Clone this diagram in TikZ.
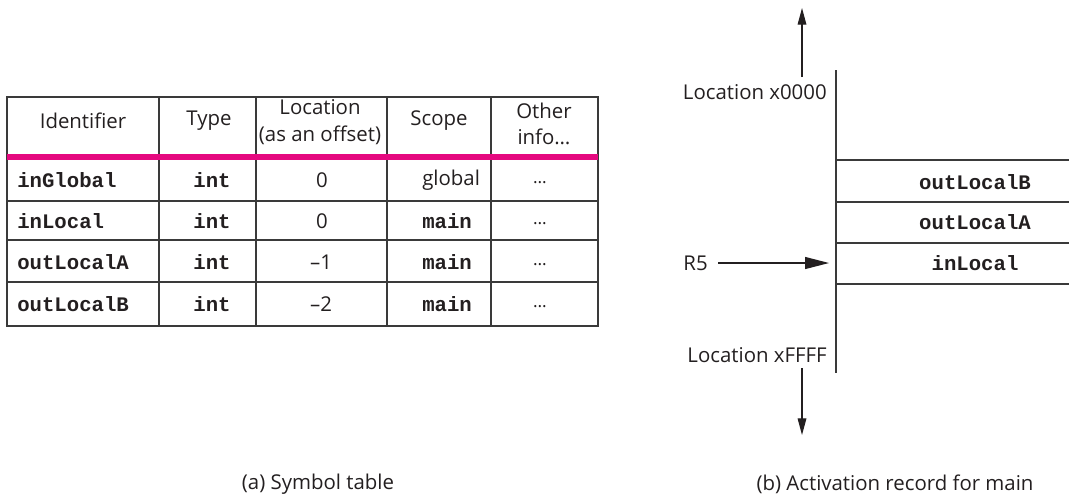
\documentclass[tikz,border=0pt]{standalone}
\usepackage{fontspec}
\setmainfont{Open Sans}
\newfontfamily\codefont{Liberation Mono}
\usetikzlibrary{arrows.meta}
\definecolor{ink}{HTML}{231F20}
\definecolor{rule}{HTML}{3A3A3A}
\definecolor{pinkrule}{HTML}{E5097F}
\tikzset{
  txt/.style={inner sep=0pt, text=ink, font=\fontsize{15.3}{16}\selectfont},
  code/.style={inner sep=0pt, text=ink, font=\fontsize{15.5}{16}\selectfont\codefont\bfseries},
  dots/.style={inner sep=0pt, text=ink, font=\fontsize{13}{14}\selectfont},
  tline/.style={draw=rule, line width=1.1pt},
  mline/.style={draw=rule, line width=1.1pt},
  varrow/.style={draw=ink, line width=0.9pt, -{Triangle[length=12.5pt,width=6.5pt]}},
  harrow/.style={draw=ink, line width=0.9pt, -{Triangle[length=18pt,width=9pt]}}
}
\begin{document}
\begin{tikzpicture}[x=0.75pt,y=-0.75pt]
\useasboundingbox (0,0) rectangle (1069,494);
% ---------- symbol table ----------
\draw[tline] (7,97) rectangle (598,326);
\foreach \xx in {159,256,387,491} \draw[tline] (\xx,97) -- (\xx,326);
\foreach \yy in {201,240,282} \draw[tline] (7,\yy) -- (598,\yy);
\draw[draw=pinkrule, line width=4.5pt] (7,156.5) -- (598,156.5);
% header
\node[txt] (hid) at (83,121) {Identifier};
\node[txt] (hty) at (209,121) {Type};
\node[txt, align=center, font=\fontsize{15.3}{20}\selectfont] (hlo) at (320,122) {Location\\(as an offset)};
\node[txt] (hsc) at (439,121) {Scope};
\node[txt, align=center, font=\fontsize{15.3}{20}\selectfont] (hot) at (544,124) {Other\\info\ldots};
% rows
\node[code, anchor=west] (r1id) at (17,180) {inGlobal};
\node[code] (r1ty) at (212,180) {int};
\node[txt] (r1lo) at (322,180) {0};
\node[txt, anchor=west] (r1sc) at (422,180) {global};
\node[dots] (r1ot) at (540,183) {\ldots};
\node[code, anchor=west] (r2id) at (17,221) {inLocal};
\node[code] (r2ty) at (212,221) {int};
\node[txt] (r2lo) at (322,221) {0};
\node[code, anchor=west] (r2sc) at (422,221) {main};
\node[dots] (r2ot) at (540,224) {\ldots};
\node[code, anchor=west] (r3id) at (17,262) {outLocalA};
\node[code] (r3ty) at (212,262) {int};
\node[txt] (r3lo) at (321,262) {--1};
\node[code, anchor=west] (r3sc) at (422,262) {main};
\node[dots] (r3ot) at (540,265) {\ldots};
\node[code, anchor=west] (r4id) at (17,304) {outLocalB};
\node[code] (r4ty) at (212,304) {int};
\node[txt] (r4lo) at (321,304) {--2};
\node[code, anchor=west] (r4sc) at (422,304) {main};
\node[dots] (r4ot) at (540,307) {\ldots};
\node[txt] (capa) at (318,484) {(a) Symbol table};
% ---------- activation record ----------
\draw[mline] (836,70) -- (836,373);
\foreach \yy in {160,202,243,284} \draw[mline] (836,\yy) -- (1069,\yy);
\node[code] (mB) at (975,182) {outLocalB};
\node[code] (mA) at (975,222) {outLocalA};
\node[code] (mI) at (975,263) {inLocal};
\node[txt, anchor=east] (loc0) at (827,92) {Location x0000};
\node[txt, anchor=east] (locF) at (827,355) {Location xFFFF};
\node[txt, anchor=east] (r5) at (708,263) {R5};
\coordinate (upfrom) at (802,77);
\coordinate (upto) at (802,8);
\coordinate (dnfrom) at (802,368);
\coordinate (dnto) at (802,435);
\coordinate (r5to) at (829,263);
\draw[varrow] (upfrom) -- (upto);
\draw[varrow] (dnfrom) -- (dnto);
\draw[harrow] (r5.east) ++(10,0) coordinate (r5from) (r5from) -- (r5to);
\node[txt] (capb) at (895,484) {(b) Activation record for main};
\end{tikzpicture}
\end{document}
